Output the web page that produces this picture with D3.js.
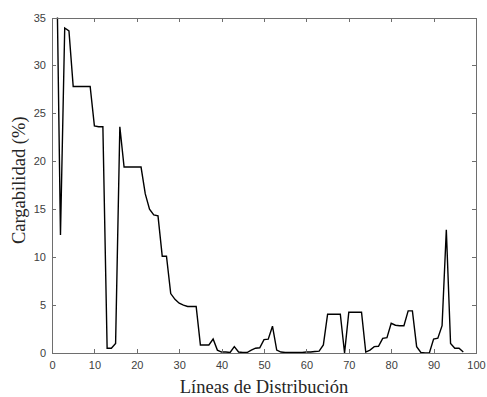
<html>
<head>
<meta charset="utf-8">
<script src="https://d3js.org/d3.v7.min.js"></script>
<style>
  body { margin: 0; background: #fff; }
  .axis text { font-family: "Liberation Sans", Arial, sans-serif; font-size: 11px; fill: #404040; }
  .axis path, .axis line { stroke: #6e6e6e; shape-rendering: crispEdges; }
  .lbl { font-family: "Liberation Serif", "Times New Roman", serif; font-size: 18.5px; fill: #262626; }
</style>
</head>
<body>
<svg id="plot1" width="487" height="397"></svg>
<script>
  // data
  const lineas = d3.range(1, 98)
  const cargabilidad = [
    44, 12.3, 33.9, 33.6, 27.8, 27.8, 27.8, 27.8, 27.8, 23.7,
    23.6, 23.6, 0.5, 0.5, 1.0, 23.6, 19.4, 19.4, 19.4, 19.4,
    19.4, 16.6, 15.0, 14.4, 14.3, 10.1, 10.1, 6.2, 5.6, 5.2,
    5.0, 4.85, 4.85, 4.85, 0.84, 0.84, 0.84, 1.46, 0.3, 0.1,
    0.1, 0.05, 0.66, 0.1, 0.05, 0.05, 0.3, 0.5, 0.55, 1.4,
    1.45, 2.8, 0.3, 0.1, 0.05, 0.05, 0.05, 0.05, 0.05, 0.1,
    0.1, 0.15, 0.2, 0.84, 4.04, 4.04, 4.04, 4.04, 0.0, 4.25,
    4.25, 4.25, 4.25, 0.1, 0.3, 0.66, 0.7, 1.53, 1.6, 3.1,
    2.9, 2.85, 2.85, 4.39, 4.39, 0.66, 0.05, 0.0, 0.0, 1.46,
    1.55, 2.85, 12.85, 1.0, 0.5, 0.5, 0.1
  ]
  const xTicks = d3.range(0, 101, 10)
  const yTicks = d3.range(0, 36, 5)

  const margin = {left: 52, top: 17.5, right: 11, bottom: 44}
  const svg = d3.select('svg#plot1')
  const width = +svg.attr('width') - margin.left - margin.right
  const height = +svg.attr('height') - margin.top - margin.bottom

  const x = d3.scaleLinear().domain([0, 100]).range([0, width])
  const y = d3.scaleLinear().domain([0, 35]).range([height, 0])

  const plot = svg.append('g').attr('transform', `translate(${margin.left},${margin.top})`)

  svg.append('defs').append('clipPath').attr('id', 'clip')
    .append('rect').attr('width', width).attr('height', height)

  // line
  const line = d3.line().x((d, i) => x(lineas[i])).y(d => y(d))
  plot.append('path')
    .datum(cargabilidad)
    .attr('clip-path', 'url(#clip)')
    .attr('d', line)
    .attr('fill', 'none')
    .attr('stroke', '#000')
    .attr('stroke-width', 1.4)

  // axes, ticks pointing inward, box on
  plot.append('g').attr('class', 'axis')
    .attr('transform', `translate(0,${height})`)
    .call(d3.axisBottom(x).tickValues(xTicks).tickSizeInner(-4).tickSizeOuter(0).tickPadding(8))
  plot.append('g').attr('class', 'axis')
    .call(d3.axisTop(x).tickValues(xTicks).tickSizeInner(-4).tickSizeOuter(0).tickFormat(''))
  plot.append('g').attr('class', 'axis')
    .call(d3.axisLeft(y).tickValues(yTicks).tickSizeInner(-4).tickSizeOuter(0).tickPadding(6))
  plot.append('g').attr('class', 'axis')
    .attr('transform', `translate(${width},0)`)
    .call(d3.axisRight(y).tickValues(yTicks).tickSizeInner(-4).tickSizeOuter(0).tickFormat(''))

  // labels
  svg.append('text').attr('class', 'lbl')
    .attr('x', margin.left + width / 2).attr('y', 393)
    .attr('text-anchor', 'middle')
    .text('Líneas de Distribución')
  svg.append('text').attr('class', 'lbl')
    .attr('transform', `translate(25,${margin.top + height / 2 - 5}) rotate(-90)`)
    .attr('text-anchor', 'middle')
    .text('Cargabilidad (%)')
</script>
</body>
</html>
